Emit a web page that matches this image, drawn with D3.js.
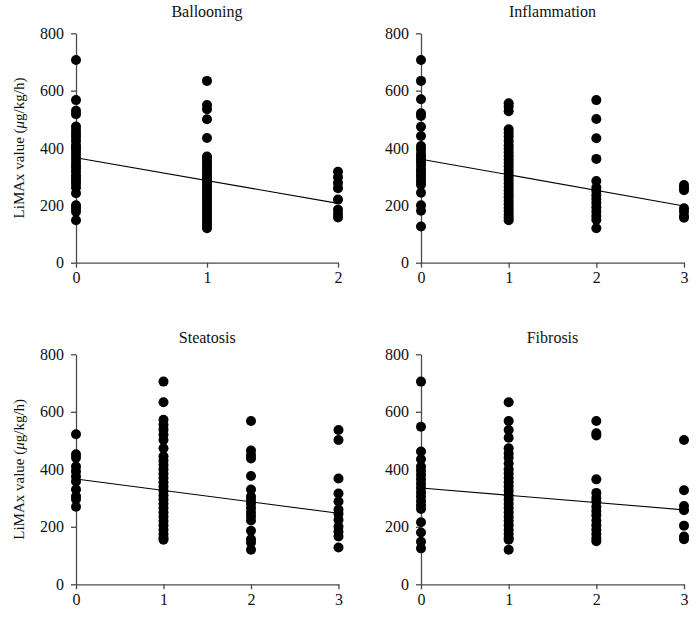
<!DOCTYPE html>
<html>
<head>
<meta charset="utf-8">
<script src="https://cdn.jsdelivr.net/npm/d3@7"></script>
<style>
  body { margin: 0; background: #fff; }
  svg { display: block; font-family: "Liberation Serif", "DejaVu Serif", serif; }
</style>
</head>
<body>
<svg id="chart" width="699" height="619"></svg>
<script>
// ---- Data ----
const panelTitles = ["Ballooning", "Inflammation", "Steatosis", "Fibrosis"];
const yTicks = [0, 200, 400, 600, 800];
const yLabel = "LiMAx value";

const ballooningGrades = [0, 1, 2];
const ballooningValues = [
  [707, 567, 530, 518, 475, 462, 450, 438, 425, 410, 400, 390, 378, 365, 352, 340, 330, 318, 305, 295, 285, 275, 262, 242, 200, 190, 178, 148],
  [634, 550, 535, 500, 435, 370, 360, 350, 340, 330, 320, 310, 300, 290, 280, 270, 260, 250, 240, 230, 220, 210, 200, 190, 180, 170, 160, 150, 140, 130, 120],
  [317, 298, 278, 260, 220, 185, 170, 158]
];
const ballooningTrend = [366, 207]; // fitted value at first / last grade

const inflammationGrades = [0, 1, 2, 3];
const inflammationValues = [
  [707, 634, 570, 521, 512, 474, 442, 407, 395, 380, 370, 360, 350, 338, 325, 315, 305, 295, 283, 272, 244, 200, 181, 126],
  [556, 545, 528, 465, 452, 440, 425, 410, 398, 385, 372, 360, 348, 336, 324, 312, 300, 288, 276, 264, 252, 240, 228, 216, 204, 192, 180, 168, 158, 148],
  [567, 501, 434, 362, 285, 262, 250, 235, 222, 208, 193, 178, 163, 150, 120],
  [271, 262, 253, 190, 178, 162, 157]
];
const inflammationTrend = [361, 198];

const steatosisGrades = [0, 1, 2, 3];
const steatosisValues = [
  [522, 452, 440, 410, 392, 375, 358, 330, 306, 296, 270],
  [705, 633, 572, 555, 538, 520, 502, 473, 445, 430, 415, 400, 385, 370, 355, 340, 325, 310, 295, 280, 265, 250, 235, 220, 205, 190, 175, 162, 155],
  [568, 465, 450, 438, 377, 330, 305, 293, 280, 265, 250, 237, 222, 186, 157, 145, 120],
  [537, 502, 368, 316, 288, 260, 245, 224, 200, 183, 166, 128]
];
const steatosisTrend = [366, 247];

const fibrosisGrades = [0, 1, 2, 3];
const fibrosisValues = [
  [705, 548, 462, 435, 410, 395, 380, 365, 350, 335, 320, 305, 290, 275, 262, 216, 180, 148, 125],
  [633, 568, 537, 510, 473, 455, 440, 420, 400, 385, 370, 355, 340, 325, 310, 295, 280, 265, 250, 235, 220, 205, 190, 175, 162, 155, 120],
  [568, 525, 518, 365, 318, 300, 288, 270, 255, 240, 222, 205, 190, 175, 160, 150],
  [502, 327, 272, 258, 204, 166, 157]
];
const fibrosisTrend = [335, 259];

// ---- Layout ----
const panels = [
  { title: panelTitles[0], grades: ballooningGrades, values: ballooningValues, trend: ballooningTrend, x0: 76, x1: 338, yTop: 33.3, yBot: 262.7, titleY: 17, showLabel: true },
  { title: panelTitles[1], grades: inflammationGrades, values: inflammationValues, trend: inflammationTrend, x0: 421, x1: 684, yTop: 33.3, yBot: 262.7, titleY: 17, showLabel: false },
  { title: panelTitles[2], grades: steatosisGrades, values: steatosisValues, trend: steatosisTrend, x0: 76, x1: 338.5, yTop: 354.3, yBot: 584.3, titleY: 343, showLabel: true },
  { title: panelTitles[3], grades: fibrosisGrades, values: fibrosisValues, trend: fibrosisTrend, x0: 421, x1: 684, yTop: 354.3, yBot: 584.3, titleY: 343, showLabel: false }
];

const svg = d3.select("#chart");
const axisColor = "#4a4a4a";

panels.forEach(p => {
  const g = svg.append("g");
  const x = d3.scaleLinear().domain(d3.extent(p.grades)).range([p.x0, p.x1]);
  const y = d3.scaleLinear().domain([0, 800]).range([p.yBot, p.yTop]);

  // y axis
  const ya = g.append("g")
    .attr("transform", `translate(${p.x0},0)`)
    .call(d3.axisLeft(y).tickValues(yTicks).tickSize(5).tickPadding(7).tickSizeOuter(0));
  // x axis
  const xa = g.append("g")
    .attr("transform", `translate(0,${p.yBot})`)
    .call(d3.axisBottom(x).tickValues(p.grades).tickFormat(d3.format("d")).tickSize(5).tickPadding(4).tickSizeOuter(0));

  [ya, xa].forEach(a => {
    a.select(".domain").attr("stroke", axisColor).attr("stroke-width", 1.3);
    a.selectAll(".tick line").attr("stroke", axisColor).attr("stroke-width", 1.3);
    a.selectAll(".tick text").attr("fill", "#111").style("font-size", "16px").style("font-family", "'Liberation Serif', serif");
  });

  // title
  g.append("text")
    .attr("x", (p.x0 + p.x1) / 2)
    .attr("y", p.titleY)
    .attr("text-anchor", "middle")
    .attr("fill", "#111")
    .style("font-size", "16px")
    .text(p.title);

  // points
  const pts = [];
  p.values.forEach((arr, i) => arr.forEach(v => pts.push({ g: p.grades[i], v })));
  g.append("g").selectAll("circle").data(pts).join("circle")
    .attr("cx", d => x(d.g))
    .attr("cy", d => y(d.v))
    .attr("r", 5)
    .attr("fill", "#000");

  // regression line
  const gx = d3.extent(p.grades);
  g.append("line")
    .attr("x1", x(gx[0])).attr("y1", y(p.trend[0]))
    .attr("x2", x(gx[1])).attr("y2", y(p.trend[1]))
    .attr("stroke", "#000").attr("stroke-width", 1.1);

  // y label
  if (p.showLabel) {
    const t = g.append("text")
      .attr("transform", `translate(24,${(p.yTop + p.yBot) / 2}) rotate(-90)`)
      .attr("text-anchor", "middle")
      .attr("fill", "#111")
      .style("font-size", "15px");
    t.append("tspan").text(yLabel + " (");
    t.append("tspan").style("font-style", "italic").text("μ");
    t.append("tspan").text("g/kg/h)");
  }
});
</script>
</body>
</html>
